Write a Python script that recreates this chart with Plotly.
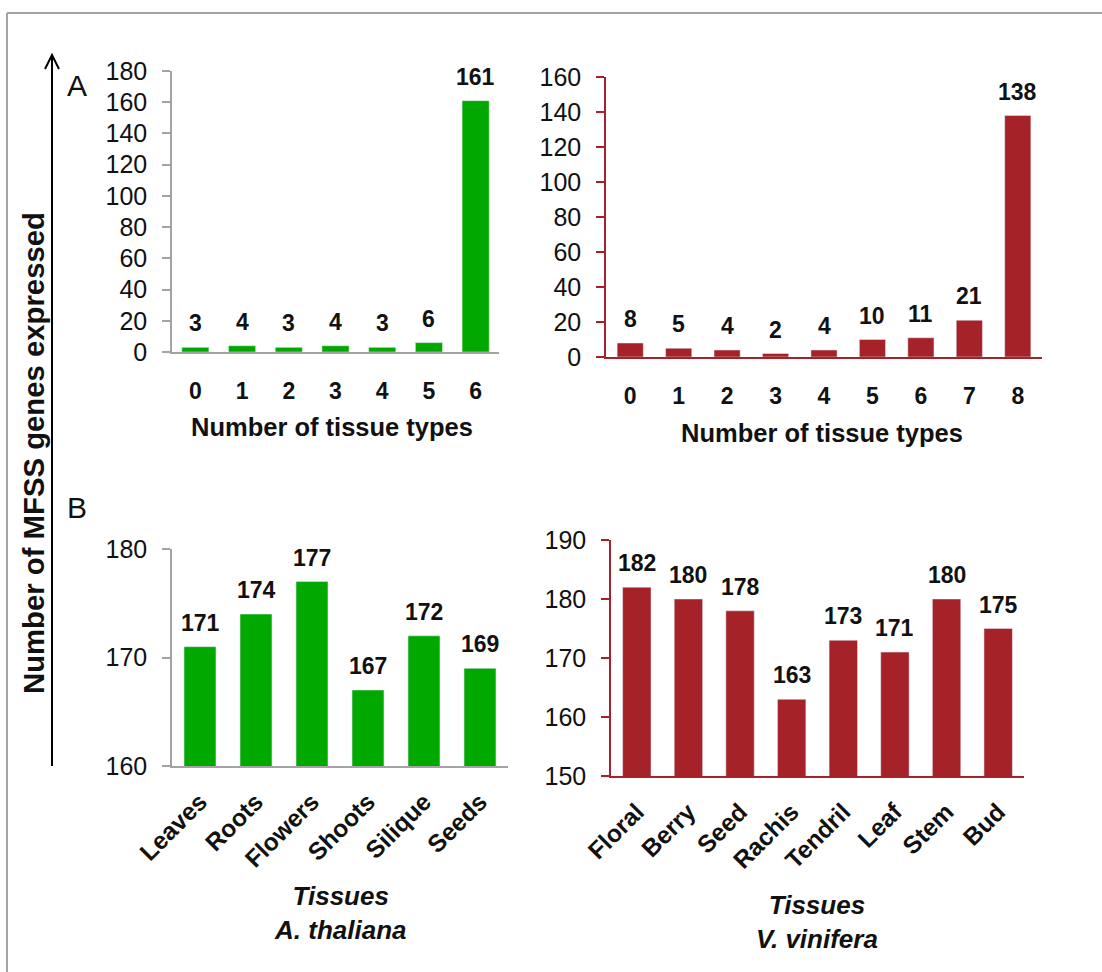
import plotly.graph_objects as go

W, H = 1102, 972

# Panel A: number of tissue types in which MFSS genes are expressed
a_thal_types = [0, 1, 2, 3, 4, 5, 6]
a_thal_tick_labels = ["0", "1", "2", "3", "4", "5", "6"]
a_thal_counts = [3, 4, 3, 4, 3, 6, 161]

v_vin_types = [0, 1, 2, 3, 4, 5, 6, 7, 8]
v_vin_tick_labels = ["0", "1", "2", "3", "4", "5", "6", "7", "8"]
v_vin_counts = [8, 5, 4, 2, 4, 10, 11, 21, 138]

# Panel B: MFSS genes expressed per tissue
a_thal_tissues = ["Leaves", "Roots", "Flowers", "Shoots", "Silique", "Seeds"]
a_thal_tissue_counts = [171, 174, 177, 167, 172, 169]

v_vin_tissues = ["Floral", "Berry", "Seed", "Rachis", "Tendril", "Leaf", "Stem", "Bud"]
v_vin_tissue_counts = [182, 180, 178, 163, 173, 171, 180, 175]

GREEN = "#00A800"
RED = "#A52328"
GRAY = "#A3A3A3"
FONT = "Liberation Sans, Arial, sans-serif"
TXT = "#111111"


def px(x):
    return x / W


def py(y):
    return 1 - y / H


fig = go.Figure()

fig.add_trace(go.Bar(x=a_thal_types, y=a_thal_counts, marker_color=GREEN,
                     width=0.58, xaxis="x", yaxis="y", hoverinfo="skip"))
fig.add_trace(go.Bar(x=v_vin_types, y=v_vin_counts, marker_color=RED,
                     width=0.54, xaxis="x2", yaxis="y2", hoverinfo="skip"))
fig.add_trace(go.Bar(x=list(range(len(a_thal_tissues))), y=a_thal_tissue_counts,
                     marker_color=GREEN, width=0.57,
                     xaxis="x3", yaxis="y3", hoverinfo="skip"))
fig.add_trace(go.Bar(x=list(range(len(v_vin_tissues))), y=v_vin_tissue_counts,
                     marker_color=RED, width=0.55,
                     xaxis="x4", yaxis="y4", hoverinfo="skip"))

ytick_font = dict(family=FONT, size=25, color=TXT)


def yaxis(domain_px, rng, dtick, color, anchor):
    return dict(domain=[py(domain_px[1]), py(domain_px[0])], range=rng, dtick=dtick,
                showgrid=False, zeroline=False, showline=True, linecolor=color,
                linewidth=1.5, ticks="outside", ticklen=8, tickcolor=color,
                tickwidth=1.5, tickfont=ytick_font, ticklabelstandoff=10,
                anchor=anchor, fixedrange=True, automargin=False)


def xaxis(domain_px, n, labels, color, anchor, angle=0, standoff=18, size=23):
    return dict(domain=[px(domain_px[0]), px(domain_px[1])], range=[-0.5, n - 0.5],
                tickvals=list(range(n)), ticktext=labels, tickangle=angle,
                showgrid=False, zeroline=False, showline=True, linecolor=color,
                linewidth=1.5, ticks="",
                tickfont=dict(family=FONT, size=size, color=TXT, weight="bold"),
                ticklabelstandoff=standoff, anchor=anchor, fixedrange=True,
                automargin=False)


fig.update_layout(
    xaxis=xaxis((172, 499), len(a_thal_types), a_thal_tick_labels, GRAY, "y"),
    yaxis=yaxis((71, 352), [0, 180], 20, GRAY, "x"),
    xaxis2=xaxis((606, 1042), len(v_vin_types), v_vin_tick_labels, RED, "y2"),
    yaxis2=yaxis((77, 357), [0, 160], 20, RED, "x2"),
    xaxis3=xaxis((172, 508), len(a_thal_tissues), a_thal_tissues, GRAY, "y3",
                 angle=-45, standoff=10, size=24.5),
    yaxis3=yaxis((549, 766), [160, 180], 10, GRAY, "x3"),
    xaxis4=xaxis((611, 1024), len(v_vin_tissues), v_vin_tissues, RED, "y4",
                 angle=-45, standoff=10, size=24.5),
    yaxis4=yaxis((540, 776), [150, 190], 10, RED, "x4"),
)

annotations = []

# value labels above each bar
label_font = dict(family=FONT, size=23, color=TXT, weight="bold")
for xs, ys, ax in [(a_thal_types, a_thal_counts, ""),
                   (v_vin_types, v_vin_counts, "2"),
                   (list(range(len(a_thal_tissues))), a_thal_tissue_counts, "3"),
                   (list(range(len(v_vin_tissues))), v_vin_tissue_counts, "4")]:
    for xv, yv in zip(xs, ys):
        annotations.append(dict(x=xv, y=yv, xref="x" + ax, yref="y" + ax,
                                text=str(yv), showarrow=False, xanchor="center",
                                yanchor="bottom", yshift=9, font=label_font))


def paper_text(x, y, text, font, **kw):
    return dict(x=px(x), y=py(y), xref="paper", yref="paper", text=text,
                showarrow=False, xanchor="center", yanchor="middle", font=font, **kw)


title_font = dict(family=FONT, size=25.5, color=TXT, weight="bold")
species_font = dict(family=FONT, size=26, color=TXT, weight="bold", style="italic")
annotations += [
    paper_text(332, 427, "Number of tissue types", title_font),
    paper_text(822, 433, "Number of tissue types", title_font),
    paper_text(340, 913, "Tissues<br>A. thaliana", species_font),
    paper_text(817, 922, "Tissues<br>V. vinifera", species_font),
    paper_text(33, 453, "Number of MFSS genes expressed",
               dict(family=FONT, size=29.3, color=TXT, weight="bold"), textangle=-90),
    paper_text(77, 86, "A", dict(family=FONT, size=30, color=TXT)),
    paper_text(77, 507, "B", dict(family=FONT, size=30, color=TXT)),
]

shapes = [
    # figure frame (top and left edges)
    dict(type="line", xref="paper", yref="paper", x0=px(7), y0=py(13), x1=px(1110),
         y1=py(13), line=dict(color=GRAY, width=2)),
    dict(type="line", xref="paper", yref="paper", x0=px(7), y0=py(13), x1=px(7),
         y1=py(990), line=dict(color=GRAY, width=2)),
    # shared y-axis arrow
    dict(type="line", xref="paper", yref="paper", x0=px(52), y0=py(766), x1=px(52),
         y1=py(56), line=dict(color="black", width=2)),
    dict(type="path", xref="paper", yref="paper",
         path=f"M {px(45)},{py(69)} L {px(52)},{py(55)} L {px(59)},{py(69)}",
         line=dict(color="black", width=2)),
]

fig.update_layout(
    width=W, height=H, margin=dict(l=0, r=0, t=0, b=0, pad=0),
    paper_bgcolor="white", plot_bgcolor="white", showlegend=False,
    annotations=annotations, shapes=shapes,
    font=dict(family=FONT, color=TXT),
)

fig.write_html("out.html")
